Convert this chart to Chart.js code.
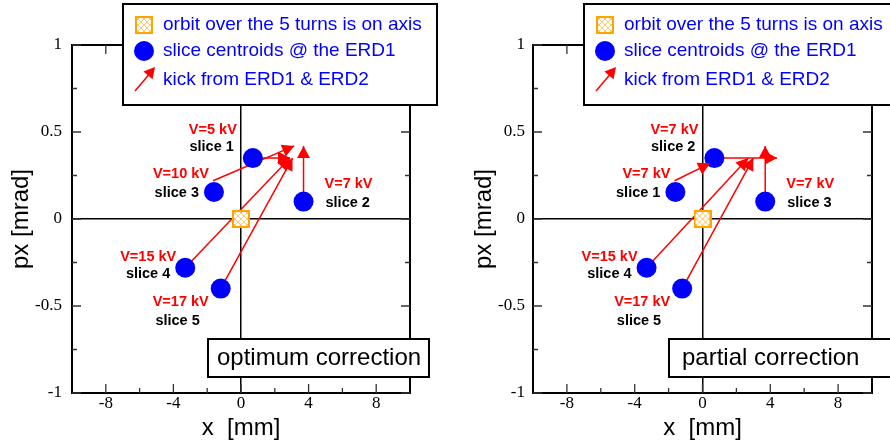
<!DOCTYPE html>
<html><head><meta charset="utf-8">
<script src="https://cdn.jsdelivr.net/npm/chart.js@4.4.1/dist/chart.umd.min.js"></script>
<style>
html,body{margin:0;padding:0;background:#fff;}
#wrap{position:relative;width:890px;height:444px;overflow:hidden;}
.c{position:absolute;top:0;width:445px;height:444px;}
</style></head><body>
<div id="wrap">
<div class="c" style="left:0"><canvas id="cA" width="445" height="444"></canvas></div>
<div class="c" style="left:445px"><canvas id="cB" width="445" height="444"></canvas></div>
</div>
<script>
// ---- data ----
const centroidX = [0.7, 3.7, -1.6, -3.3, -1.2];
const centroidY = [0.35, 0.10, 0.155, -0.28, -0.40];
const orbitX = [0];
const orbitY = [0];

const sliceNamesA = ['slice 1', 'slice 2', 'slice 3', 'slice 4', 'slice 5'];
const voltagesA = ['V=5 kV', 'V=7 kV', 'V=10 kV', 'V=15 kV', 'V=17 kV'];
const kickStartXA = [0.7, 3.7, -1.65, -3.3, -1.2];
const kickStartYA = [0.35, 0.10, 0.22, -0.28, -0.40];
const kickEndXA = [2.9, 3.7, 3.15, 2.9, 3.05];
const kickEndYA = [0.35, 0.42, 0.42, 0.35, 0.35];

const sliceNamesB = ['slice 2', 'slice 3', 'slice 1', 'slice 4', 'slice 5'];
const voltagesB = ['V=7 kV', 'V=7 kV', 'V=7 kV', 'V=15 kV', 'V=17 kV'];
const kickStartXB = [0.7, 3.7, -1.65, -3.3, -1.2];
const kickStartYB = [0.35, 0.10, 0.22, -0.28, -0.40];
const kickEndXB = [4.4, 3.7, 0.45, 2.7, 3.0];
const kickEndYB = [0.35, 0.42, 0.32, 0.35, 0.35];

const xTicks = [-8, -4, 0, 4, 8];
const xMinorTicks = [-6, -2, 2, 6];
const yTicks = [-1, -0.5, 0, 0.5, 1];
const yMinorTicks = [-0.75, -0.25, 0.25, 0.75];

const legendLabels = ['orbit over the 5 turns is on axis', 'slice centroids @ the ERD1', 'kick from ERD1 & ERD2'];
const panelTitles = ['optimum correction', 'partial correction'];
const xTitle = 'x  [mm]';
const yTitle = 'px [mrad]';

// ---- styles ----
const SANS = '"Liberation Sans", Arial, Helvetica, sans-serif';
const SERIF = '"Liberation Serif", "Times New Roman", serif';
const labelOffsets = [
  {align: 'right', v: [-16, -28], s: [-19, -11]},
  {align: 'left',  v: [21, -18],  s: [22, 1]},
  {align: 'right', v: [-5, -18],  s: [-15, 1]},
  {align: 'right', v: [-9, -11],  s: [-15, 6]},
  {align: 'right', v: [-12, 13],  s: [-21, 32]}
];

// orbit marker image
const orbitImg = document.createElement('canvas');
orbitImg.width = 18; orbitImg.height = 18;
(function () {
  const g = orbitImg.getContext('2d');
  g.fillStyle = '#fff'; g.fillRect(0, 0, 18, 18);
  g.strokeStyle = '#FFC870'; g.lineWidth = 1;
  for (let k = -18; k <= 18; k += 6) {
    g.beginPath(); g.moveTo(k, 0); g.lineTo(k + 18, 18); g.stroke();
    g.beginPath(); g.moveTo(k + 18, 0); g.lineTo(k, 18); g.stroke();
  }
  g.strokeStyle = '#FFA500'; g.lineWidth = 2; g.strokeRect(1, 1, 16, 16);
})();

function drawHead(ctx, x0, y0, x1, y1, len, hw) {
  const a = Math.atan2(y1 - y0, x1 - x0);
  const c = Math.cos(a), s = Math.sin(a);
  const bx = x1 - len * c, by = y1 - len * s;
  ctx.beginPath();
  ctx.moveTo(x1, y1);
  ctx.lineTo(bx - hw * s, by + hw * c);
  ctx.lineTo(bx + hw * s, by - hw * c);
  ctx.closePath();
  ctx.fill();
}

function decor(p) {
  return {
    id: 'decor',
    afterDatasetsDraw(chart) {
      const ctx = chart.ctx, a = chart.chartArea, x = chart.scales.x, y = chart.scales.y;
      ctx.save();
      // arrowheads
      ctx.fillStyle = '#ff0000';
      p.kx1.forEach((x1, i) => {
        drawHead(ctx, x.getPixelForValue(p.kx0[i]), y.getPixelForValue(p.ky0[i]),
          x.getPixelForValue(x1), y.getPixelForValue(p.ky1[i]), 12, 6.5);
      });
      // point labels
      ctx.font = 'bold 14.5px ' + SANS;
      ctx.textBaseline = 'middle';
      centroidX.forEach((cx, i) => {
        const X = x.getPixelForValue(cx), Y = y.getPixelForValue(centroidY[i]);
        const o = labelOffsets[i];
        ctx.textAlign = o.align;
        ctx.fillStyle = '#ff0000'; ctx.fillText(p.volts[i], X + o.v[0], Y + o.v[1]);
        ctx.fillStyle = '#000000'; ctx.fillText(p.names[i], X + o.s[0], Y + o.s[1]);
      });
      // frame
      ctx.strokeStyle = '#000'; ctx.lineWidth = 2;
      ctx.strokeRect(a.left, a.top, a.right - a.left, a.bottom - a.top);
      // inward ticks
      ctx.lineWidth = 1.3; ctx.strokeStyle = '#333';
      const xt = (vals, len) => vals.forEach(v => {
        const X = x.getPixelForValue(v);
        ctx.beginPath(); ctx.moveTo(X, a.bottom); ctx.lineTo(X, a.bottom - len);
        ctx.moveTo(X, a.top); ctx.lineTo(X, a.top + len); ctx.stroke();
      });
      const yt = (vals, len) => vals.forEach(v => {
        const Y = y.getPixelForValue(v);
        ctx.beginPath(); ctx.moveTo(a.left, Y); ctx.lineTo(a.left + len, Y);
        ctx.moveTo(a.right, Y); ctx.lineTo(a.right - len, Y); ctx.stroke();
      });
      xt(xTicks, 9); xt(xMinorTicks, 5); yt(yTicks, 9); yt(yMinorTicks, 5);
      ctx.restore();
    },
    afterDraw(chart) {
      const ctx = chart.ctx;
      ctx.save();
      // legend box
      const L = p.legendLeft;
      ctx.fillStyle = '#fff'; ctx.fillRect(L, 4, p.legendWidth, 101);
      ctx.strokeStyle = '#000'; ctx.lineWidth = 2; ctx.strokeRect(L, 4, p.legendWidth, 101);
      const ix = L + 21, tx = L + 40;
      ctx.drawImage(orbitImg, ix - 9, 25 - 9);
      ctx.fillStyle = '#0000ff';
      ctx.beginPath(); ctx.arc(ix, 51, 10, 0, Math.PI * 2); ctx.fill();
      ctx.strokeStyle = '#ff0000'; ctx.fillStyle = '#ff0000'; ctx.lineWidth = 1.5;
      ctx.beginPath(); ctx.moveTo(ix - 9, 91); ctx.lineTo(ix + 8, 71); ctx.stroke();
      drawHead(ctx, ix - 9, 91, ix + 11, 67, 11, 6);
      ctx.fillStyle = '#0000ff';
      ctx.font = '19px ' + SANS; ctx.textAlign = 'left'; ctx.textBaseline = 'middle';
      ctx.fillText(legendLabels[0], tx, 25);
      ctx.fillText(legendLabels[1], tx, 51);
      ctx.fillText(legendLabels[2], tx, 80);
      // panel title box
      ctx.fillStyle = '#fff'; ctx.fillRect(p.boxLeft, 339, p.boxWidth, 38);
      ctx.strokeStyle = '#000'; ctx.lineWidth = 2; ctx.strokeRect(p.boxLeft, 339, p.boxWidth, 38);
      ctx.fillStyle = '#000'; ctx.font = '24px ' + SANS;
      ctx.fillText(p.title, p.boxLeft + p.textPad, 358);
      ctx.restore();
    }
  };
}

function makeChart(id, p) {
  const datasets = [];
  datasets.push({
    label: 'orbit', data: orbitX.map((v, i) => ({x: v, y: orbitY[i]})),
    pointStyle: orbitImg, pointRadius: 9, order: 0
  });
  datasets.push({
    label: 'centroids', data: centroidX.map((v, i) => ({x: v, y: centroidY[i]})),
    pointRadius: 10, pointHoverRadius: 10, backgroundColor: '#0000ff', borderColor: '#0000ff', borderWidth: 0, order: 1
  });
  p.kx0.forEach((x0, i) => datasets.push({
    label: 'kick' + i, showLine: true,
    data: [{x: x0, y: p.ky0[i]}, {x: p.kx1[i], y: p.ky1[i]}],
    borderColor: '#ff0000', borderWidth: 1.5, pointRadius: 0, order: 2
  }));
  const zeroGrid = {
    drawTicks: false, lineWidth: 1.5,
    color: c => (c.tick && c.tick.value === 0) ? '#000' : 'rgba(0,0,0,0)'
  };
  return new Chart(document.getElementById(id), {
    type: 'scatter',
    data: {datasets},
    options: {
      responsive: false, animation: false, events: [],
      layout: {padding: {top: 45, right: p.padRight, left: 0, bottom: 0}},
      plugins: {legend: {display: false}, tooltip: {enabled: false}},
      scales: {
        x: {
          type: 'linear', min: -10, max: 10,
          afterBuildTicks: s => { s.ticks = xTicks.map(v => ({value: v})); },
          afterFit: s => { s.height = 51; },
          ticks: {font: {family: SERIF, size: 17}, color: '#000', padding: 0, maxRotation: 0, autoSkip: false, callback: v => String(v)},
          title: {display: true, text: xTitle, color: '#000', font: {family: SANS, size: 24}, padding: {top: 0, bottom: 1}},
          grid: zeroGrid, border: {display: false}
        },
        y: {
          type: 'linear', min: -1, max: 1,
          afterBuildTicks: s => { s.ticks = yTicks.map(v => ({value: v})); },
          afterFit: s => { s.width = p.yWidth; },
          ticks: {font: {family: SERIF, size: 17}, color: '#000', padding: p.yTickPad, autoSkip: false, callback: v => String(v)},
          title: {display: true, text: yTitle, color: '#000', font: {family: SANS, size: 24}, padding: {top: p.yTitlePad, bottom: 0}},
          grid: zeroGrid, border: {display: false}
        }
      }
    },
    plugins: [decor(p)]
  });
}

makeChart('cA', {
  kx0: kickStartXA, ky0: kickStartYA, kx1: kickEndXA, ky1: kickEndYA,
  names: sliceNamesA, volts: voltagesA, title: panelTitles[0],
  padRight: 35, yWidth: 72, yTickPad: 10, yTitlePad: 7,
  legendLeft: 123, legendWidth: 314, boxLeft: 208, boxWidth: 221, textPad: 9
});
makeChart('cB', {
  kx0: kickStartXB, ky0: kickStartYB, kx1: kickEndXB, ky1: kickEndYB,
  names: sliceNamesB, volts: voltagesB, title: panelTitles[1],
  padRight: 18, yWidth: 88, yTickPad: 8, yTitlePad: 25,
  legendLeft: 139, legendWidth: 330, boxLeft: 224, boxWidth: 240, textPad: 13
});
</script>
</body></html>
